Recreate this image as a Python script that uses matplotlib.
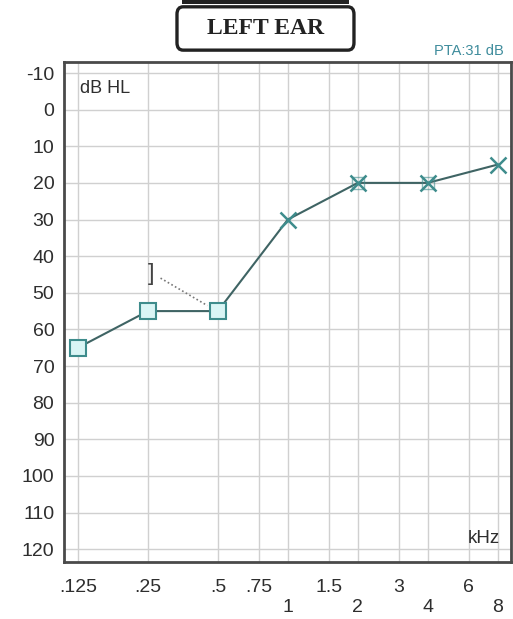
import numpy as np
import matplotlib.pyplot as plt
from matplotlib.patches import FancyBboxPatch

plt.rcParams['font.family'] = ['Liberation Sans', 'DejaVu Sans']

# audiogram frequencies (kHz) and tick labels
freqs = [0.125, 0.25, 0.5, 0.75, 1, 1.5, 2, 3, 4, 6, 8]
freq_labels = ['.125', '.25', '.5', '.75', '1', '1.5', '2', '3', '4', '6', '8']
low_row = [False, False, False, False, True, False, True, False, True, False, True]

# air conduction, masked (squares) and unmasked (X)
sq_freq = [0.125, 0.25, 0.5]
sq_db = [65, 55, 55]
x_freq = [1, 2, 4, 8]
x_db = [30, 20, 20, 15]
# bone conduction bracket
bc_freq = [0.25]
bc_db = [45]

db_ticks = list(range(-10, 130, 10))

line_c = '#3f6464'
edge_c = '#3e8c8c'
fill_c = '#d9f5f5'
txt_c = '#2e2e2e'

fig = plt.figure(figsize=(5.13, 6.19), dpi=100)
ax = fig.add_axes([0.1248, 0.0921, 0.8712, 0.8077])

lx = np.log2(freqs)
ax.set_xlim(np.log2(0.125) - 0.2, np.log2(8) + 0.19)
ax.set_ylim(123.5, -13)

for v in lx:
    ax.axvline(v, color='#d0d0d0', lw=1.0, zorder=0)
for d in db_ticks:
    ax.axhline(d, color='#d0d0d0', lw=1.0, zorder=0)

ax.set_xticks([])
ax.set_yticks(db_ticks)
ax.set_yticklabels([str(d) for d in db_ticks], fontsize=14, color=txt_c)
ax.tick_params(axis='y', length=0, pad=7)
for s in ax.spines.values():
    s.set_color('#4a4a4a')
    s.set_linewidth(2.0)

# frequency labels, half-octaves raised above octaves
for v, lab, low in zip(lx, freq_labels, low_row):
    ax.text(v, -0.035 if not low else -0.075, lab, transform=ax.get_xaxis_transform(),
            ha='center', va='top', fontsize=14, color=txt_c)

# connecting line through all thresholds
all_f = np.log2(sq_freq + x_freq)
all_d = sq_db + x_db
ax.plot(all_f, all_d, color=line_c, lw=1.5, zorder=2)

ax.plot(np.log2(sq_freq), sq_db, ls='none', marker='s', ms=12, mfc=fill_c,
        mec=edge_c, mew=1.5, zorder=3)
ax.plot(np.log2(x_freq), x_db, ls='none', marker='x', ms=12, mec=edge_c,
        mew=1.8, zorder=3)
# overlapping symbols at 2 and 4 kHz
ax.plot(np.log2(x_freq[1:3]), x_db[1:3], ls='none', marker='s', ms=9, mfc='none',
        mec=edge_c, mew=1.0, zorder=3, alpha=0.6)

# bone conduction marker and dotted link
bx = np.log2(bc_freq[0]) + 0.04
ax.text(bx, bc_db[0], ']', ha='center', va='center', fontsize=17,
        color='#444444', zorder=3)
ax.plot([bx + 0.14, np.log2(0.5) - 0.15], [bc_db[0] + 1, 53.5], color='#777777',
        lw=1.2, ls=(0, (1, 1.5)), zorder=2)

ax.text(0.035, 0.965, 'dB HL', transform=ax.transAxes, ha='left', va='top',
        fontsize=13, color=txt_c)
ax.text(0.975, 0.03, 'kHz', transform=ax.transAxes, ha='right', va='bottom',
        fontsize=13.5, color=txt_c)
ax.text(0.985, 1.008, 'PTA:31 dB', transform=ax.transAxes, ha='right', va='bottom',
        fontsize=10.5, color='#3e8c9c')

# title box
box = FancyBboxPatch((0.345, 0.919), 0.345, 0.07, boxstyle='round,pad=0,rounding_size=0.012',
                     transform=fig.transFigure, fc='white', ec='#222222', lw=2.4)
fig.patches.append(box)
fig.patches.append(plt.Rectangle((0.355, 0.993), 0.325, 0.01, transform=fig.transFigure,
                                 fc='#222222', ec='none'))
fig.text(0.5175, 0.954, 'LEFT EAR', ha='center', va='center', fontsize=17,
         fontweight='bold', family='Liberation Serif', color='#222222')

fig.savefig('out.png', dpi=100)
